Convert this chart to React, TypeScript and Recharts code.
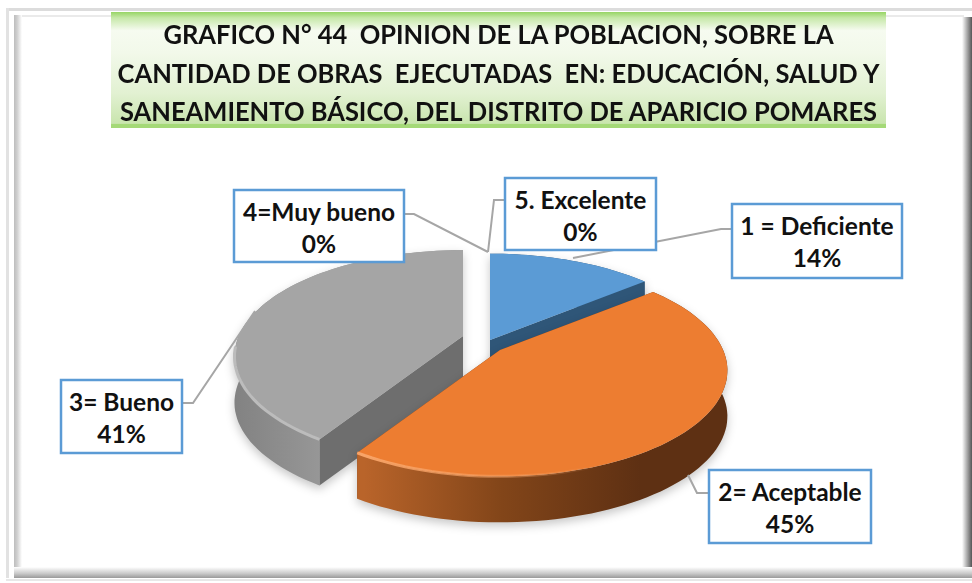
import { PieChart, Pie, Cell } from 'recharts'

const categories = ['1 = Deficiente', '2= Aceptable', '3= Bueno', '4=Muy bueno', '5. Excelente']
const percents = [14, 45, 41, 0, 0]
const titleLines = [
  'GRAFICO N° 44  OPINION DE LA POBLACION, SOBRE LA',
  'CANTIDAD DE OBRAS  EJECUTADAS  EN: EDUCACIÓN, SALUD Y',
  'SANEAMIENTO BÁSICO, DEL DISTRITO DE APARICIO POMARES',
]
const topColors = ['#5b9bd5', '#ed7d31', '#a5a5a5', '#ffc000', '#4472c4']
const cutColors = ['#2f5678', '#7a3f17', '#6e6e6e', '#806000', '#203864']

const data = categories.map((name, i) => ({ name, value: percents[i] }))

// chart layout
const CX = 480
const CY = 342
const RADIUS = 230
const SQUASH = 0.457
const TILT = 0.193
const DEPTH = 46
const explode = [[10, -2], [20, 8], [-17, -6], [8, -2], [8, -2]]
const sliceScale = [0.98, 0.97, 0.975, 1, 1]
const wallFills = ['#2f5678', 'url(#wallOrange)', 'url(#wallGrey)', '#806000', '#203864']
const rimStrokes = ['none', 'url(#rimOrange)', '#bcbcbc', 'none', 'none']

// label boxes: x, y, w, h and the leader polyline under each box
const boxes = [
  { x: 732, y: 204, w: 170, h: 74, leader: '732,229 721,229 573,258' },
  { x: 709, y: 470, w: 162, h: 73, leader: '709,493 697,493 688,475' },
  { x: 61, y: 380, w: 121, h: 73, leader: '182,403 193,403 255,311' },
  { x: 234, y: 190, w: 170, h: 72, leader: '404,214 414,214 488,252' },
  { x: 505, y: 178, w: 151, h: 72, leader: '505,200 494,200 488,252' },
]

function project(deg: number, cx: number, cy: number, r: number) {
  const t = ((90 - deg) * Math.PI) / 180
  const u = Math.sin(t)
  const v = -Math.cos(t)
  const w = 1 - TILT * v
  return [cx + (r * u) / w, cy + (r * SQUASH * v) / w]
}

function arcPoints(start: number, end: number, cx: number, cy: number, r: number) {
  const n = Math.max(2, Math.ceil(Math.abs(end - start) / 2))
  const pts: number[][] = []
  for (let i = 0; i <= n; i++) pts.push(project(start + ((end - start) * i) / n, cx, cy, r))
  return pts
}

const str = (pts: number[][]) => pts.map((p) => `${p[0].toFixed(1)},${p[1].toFixed(1)}`).join(' ')

function Slice(props: any, only: (i: number) => boolean) {
  const { startAngle, endAngle, cx, cy, outerRadius, index } = props
  if (!only(index) || startAngle === endAngle) return <g />
  const x = cx + explode[index][0]
  const y = cy + explode[index][1]
  const arc = arcPoints(startAngle, endAngle, x, y, outerRadius * sliceScale[index])
  const below = arc.map((p) => [p[0], p[1] + DEPTH]).reverse()
  const first = arc[0]
  const last = arc[arc.length - 1]
  const cut = (p: number[]) => [[x, y], p, [p[0], p[1] + DEPTH], [x, y + DEPTH]]
  // front part of the rim, only where the edge faces the viewer
  const front = arc.filter((p) => p[1] > y + 10)
  return (
    <g style={{ filter: 'drop-shadow(0 4px 5px rgba(0,0,0,0.22))' }}>
      <polygon points={str(cut(first))} fill={cutColors[index]} />
      <polygon points={str(cut(last))} fill={cutColors[index]} />
      <polygon points={str([...arc, ...below])} fill={wallFills[index]} />
      <polygon points={str([[x, y], ...arc])} fill={topColors[index]} />
      {front.length > 1 && (
        <polyline
          points={str(front)}
          fill="none"
          stroke={rimStrokes[index]}
          strokeWidth={3}
          style={{ filter: 'blur(0.7px)' }}
        />
      )}
    </g>
  )
}

function BoxLabel(props: any) {
  const { index, name, percent } = props
  const b = boxes[index]
  const mid = b.x + b.w / 2
  return (
    <g>
      <polyline points={b.leader} fill="none" stroke="#a6a6a6" strokeWidth={2} />
      <rect x={b.x} y={b.y} width={b.w} height={b.h} fill="#fff" stroke="#5b9bd5" strokeWidth={2.5} />
      <text x={mid} y={b.y + 31} textAnchor="middle" fontFamily="Lato" fontWeight={700} fontSize={24.5} fill="#111">
        {name}
      </text>
      <text x={mid} y={b.y + 63} textAnchor="middle" fontFamily="Lato" fontWeight={700} fontSize={24.5} fill="#111">
        {`${Math.round(percent * 100)}%`}
      </text>
    </g>
  )
}

const band = (s: any) => <div style={{ position: 'absolute', ...s }} />

export default function App() {
  return (
    <div style={{ position: 'fixed', left: 0, top: 0, width: 972, height: 583, background: '#fff', overflow: 'hidden' }}>
      {/* picture frame */}
      {band({ left: 6, top: 8, width: 966, height: 3, background: '#dcdcdc' })}
      {band({ left: 6, top: 8, width: 3, height: 570, background: '#e2e2e2' })}
      {band({ left: 6, top: 579, width: 966, height: 2, background: '#e8e8e8' })}
      {band({ left: 14, top: 15, width: 950, height: 2, background: '#eaeaea' })}
      {band({ left: 14, top: 15, width: 8, height: 562, background: 'linear-gradient(90deg,#bdbdbd,#d0d0d0 40%,#fff)' })}
      {band({ left: 962, top: 17, width: 10, height: 561, background: 'linear-gradient(90deg,#fff,#9a9a9a 60%,#555)' })}
      {band({ left: 14, top: 567, width: 958, height: 11, background: 'linear-gradient(180deg,#fff,#c8c8c8 60%,#9a9a9a)' })}

      {/* title */}
      <div
        style={{
          position: 'absolute',
          left: 111,
          top: 12,
          width: 775,
          height: 116,
          background:
            'linear-gradient(180deg,#97d565 0,#c6e8a8 5%,#f6fbf0 16%,#f2f9ea 35%,#e2f1d2 70%,#c9e5ae 96%,#a4d977 97%,#a4d977 100%)',
          fontFamily: 'Lato',
          fontWeight: 700,
          fontSize: 27,
          lineHeight: '38.5px',
          color: '#111',
          textAlign: 'center',
          whiteSpace: 'pre',
          paddingTop: 3,
          boxSizing: 'border-box',
        }}
      >
        <div style={{ transform: 'scaleX(0.944)', transformOrigin: '388px 0', width: 775, display: 'flex', flexDirection: 'column', alignItems: 'center' }}>
          {titleLines.map((line) => (
            <div key={line}>{line}</div>
          ))}
        </div>
      </div>

      <div style={{ position: 'absolute', left: 0, top: 0 }}>
        <PieChart width={972} height={583} margin={{ top: 0, right: 0, bottom: 0, left: 0 }}>
          <defs>
            <linearGradient id="wallOrange" gradientUnits="userSpaceOnUse" x1={364} y1={0} x2={640} y2={0}>
              <stop offset="0" stopColor="#b9642a" />
              <stop offset="0.5" stopColor="#824519" />
              <stop offset="1" stopColor="#5e3013" />
            </linearGradient>
            <linearGradient id="wallGrey" gradientUnits="userSpaceOnUse" x1={234} y1={0} x2={330} y2={0}>
              <stop offset="0" stopColor="#828282" />
              <stop offset="1" stopColor="#999999" />
            </linearGradient>
            <linearGradient id="rimOrange" gradientUnits="userSpaceOnUse" x1={364} y1={0} x2={600} y2={0}>
              <stop offset="0" stopColor="#f8a468" />
              <stop offset="0.6" stopColor="#f8a468" stopOpacity={0.5} />
              <stop offset="1" stopColor="#f8a468" stopOpacity={0} />
            </linearGradient>
          </defs>
          <Pie
            data={data}
            dataKey="value"
            nameKey="name"
            cx={CX}
            cy={CY}
            outerRadius={RADIUS}
            startAngle={90}
            endAngle={-270}
            stroke="none"
            isAnimationActive={false}
            shape={(p: any) => Slice(p, (i) => i === 2)}
          >
            {data.map((d, i) => (
              <Cell key={d.name} fill={topColors[i]} />
            ))}
          </Pie>
          <Pie
            data={data}
            dataKey="value"
            nameKey="name"
            cx={CX}
            cy={CY}
            outerRadius={RADIUS}
            startAngle={90}
            endAngle={-270}
            stroke="none"
            isAnimationActive={false}
            labelLine={false}
            label={BoxLabel}
            shape={(p: any) => Slice(p, (i) => i !== 2)}
          >
            {data.map((d, i) => (
              <Cell key={d.name} fill={topColors[i]} />
            ))}
          </Pie>
        </PieChart>
      </div>
    </div>
  )
}
